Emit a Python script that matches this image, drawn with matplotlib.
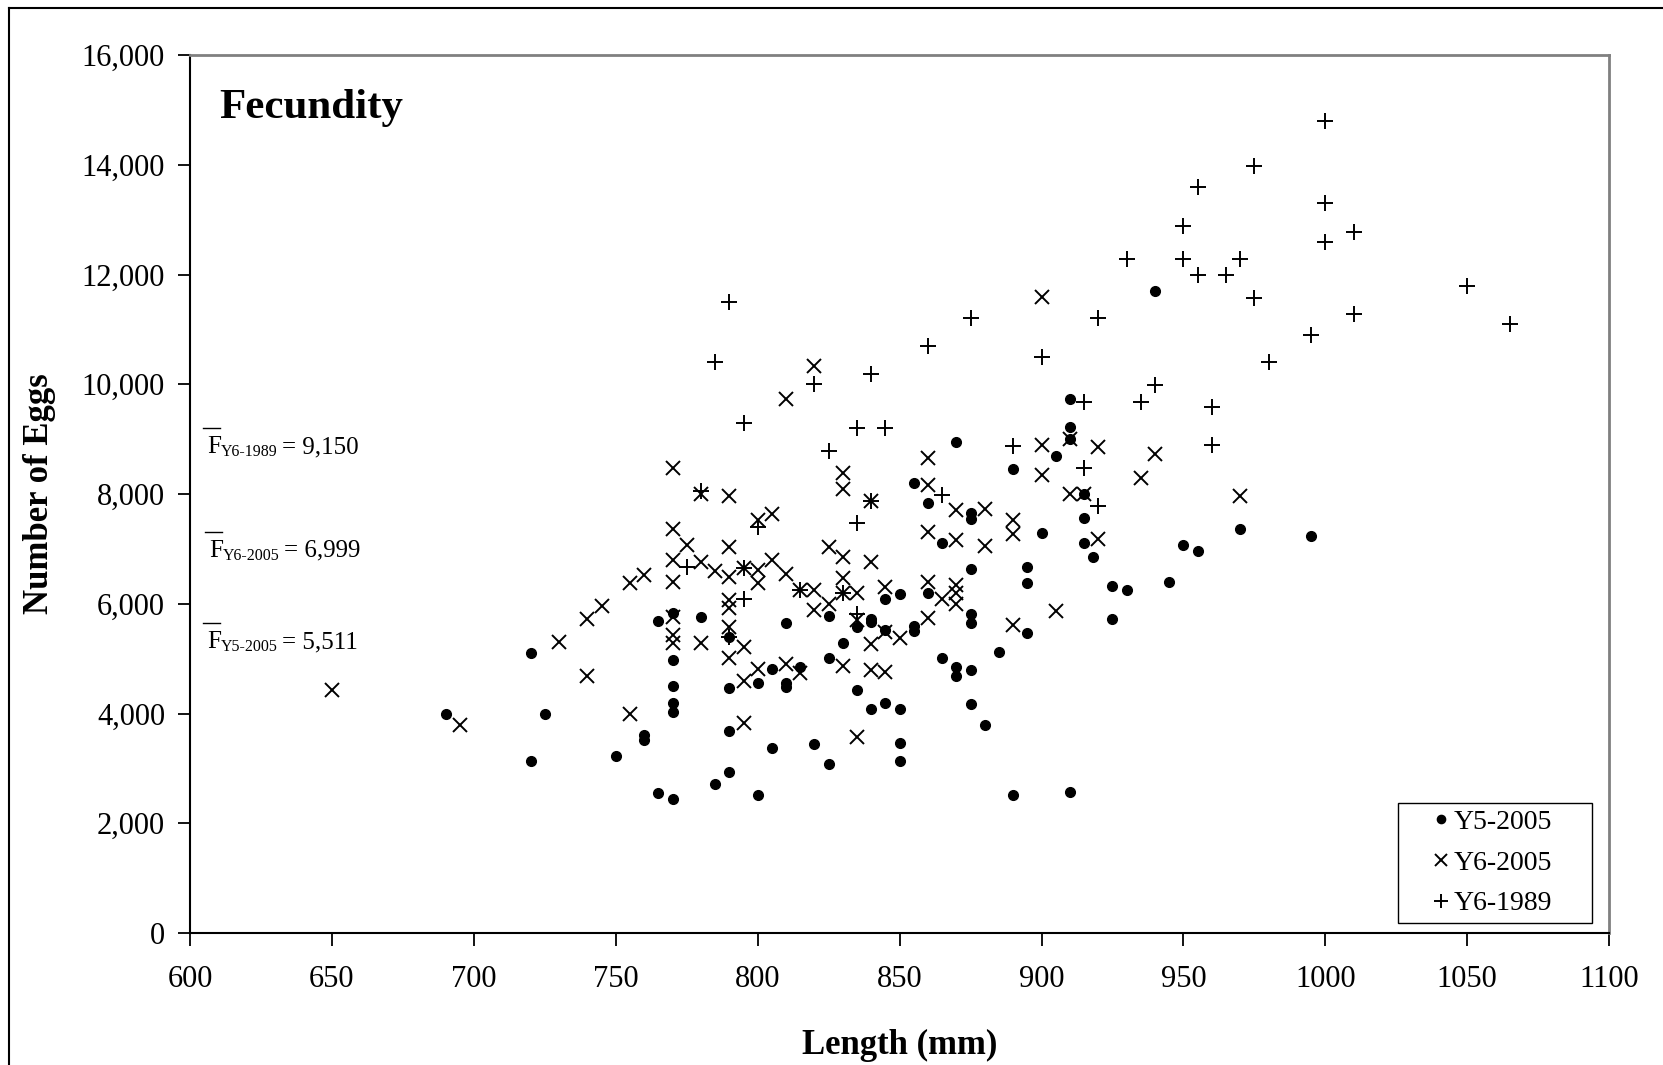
import matplotlib
matplotlib.use("Agg")
import matplotlib.pyplot as plt
import matplotlib.transforms as mtransforms
from matplotlib.lines import Line2D
from matplotlib.patches import Rectangle
from matplotlib.ticker import FuncFormatter, MultipleLocator

plt.rcParams['font.family'] = ['Liberation Serif', 'DejaVu Serif']

# Y5-2005 (dots)
y5_len = [690, 720, 720, 725, 750, 760, 760, 765, 765, 770, 770, 770, 770, 770, 770,
          780, 785, 790, 790, 790, 790, 800, 800, 805, 805, 810, 810, 810, 815, 820,
          825, 825, 825, 830, 835, 835, 840, 840, 840, 845, 845, 845, 850, 850, 850,
          850, 855, 855, 855, 860, 860, 865, 865, 870, 870, 870, 875, 875, 875, 875,
          875, 875, 875, 880, 885, 890, 890, 895, 895, 895, 900, 905, 910, 910, 910,
          910, 915, 915, 915, 918, 925, 925, 930, 940, 945, 950, 955, 970, 995]
y5_eggs = [4000, 5110, 3130, 4000, 3230, 3610, 3520, 5690, 2545, 5840, 4970, 4500, 4200, 4030, 2440,
           5760, 2715, 5390, 4470, 3680, 2930, 4550, 2510, 4810, 3380, 5655, 4550, 4480, 4840, 3445,
           5780, 5005, 3075, 5290, 5580, 4435, 5730, 5670, 4075, 6090, 5530, 4185, 6180, 4075, 3460,
           3140, 8195, 5590, 5500, 7840, 6190, 7110, 5005, 8940, 4840, 4685, 7660, 7540, 6630, 5820,
           5655, 4790, 4175, 3795, 5130, 8450, 2510, 6675, 6380, 5465, 7295, 8690, 9725, 9225, 9010,
           2575, 8010, 7560, 7115, 6860, 6330, 5720, 6250, 11700, 6405, 7075, 6965, 7365, 7240]

# Y6-2005 (crosses)
y6_len = [650, 695, 730, 740, 740, 745, 755, 755, 760, 770, 770, 770, 770, 770, 770, 770,
          775, 780, 780, 780, 785, 790, 790, 790, 790, 790, 790, 790, 795, 795, 795, 795,
          800, 800, 800, 800, 805, 805, 810, 810, 810, 815, 815, 820, 820, 820, 825, 825,
          830, 830, 830, 830, 830, 830, 835, 835, 835, 840, 840, 840, 840, 845, 845, 845,
          850, 860, 860, 860, 860, 860, 865, 870, 870, 870, 870, 870, 880, 880, 890, 890,
          890, 900, 900, 900, 905, 910, 910, 915, 920, 920, 935, 940, 970]
y6_eggs = [4430, 3790, 5310, 5715, 4690, 5960, 6385, 4000, 6530, 8470, 7365, 6790, 6400, 5765, 5430, 5280,
           7070, 8010, 6770, 5280, 6605, 7965, 7040, 6485, 6065, 5930, 5585, 5005, 6650, 5215, 4600, 3820,
           7520, 6615, 6370, 4820, 7635, 6800, 9740, 6545, 4900, 6260, 4745, 10340, 6260, 5885, 7035, 6005,
           8390, 8085, 6860, 6465, 6190, 4865, 6190, 5705, 3580, 7880, 6765, 5270, 4790, 6300, 5490, 4760,
           5370, 8650, 8165, 7315, 6400, 5735, 6095, 7710, 7160, 6340, 6190, 6005, 7725, 7050, 7525, 7280,
           5610, 11595, 8890, 8355, 5860, 9010, 7995, 8010, 8860, 7180, 8300, 8730, 7965]

# Y6-1989 (plus)
y89_len = [775, 780, 785, 790, 790, 795, 795, 795, 800, 815, 820, 825, 830, 835, 835, 835,
           840, 840, 845, 860, 865, 875, 890, 900, 915, 915, 920, 920, 930, 935, 940, 950,
           950, 955, 955, 960, 960, 965, 970, 975, 975, 980, 995, 1000, 1000, 1000, 1010,
           1010, 1050, 1065]
y89_eggs = [6675, 8050, 10400, 11500, 5400, 9300, 6650, 6080, 7400, 6250, 10000, 8790, 6190, 9200, 7480, 5820,
            10190, 7880, 9200, 10690, 7980, 11210, 8880, 10490, 9670, 8480, 11210, 7780, 12290, 9680, 9990, 12880,
            12290, 13590, 11990, 9590, 8890, 11990, 12290, 13980, 11580, 10400, 10890, 14790, 13300, 12590, 12780,
            11290, 11790, 11100]

mean_subs = ['Y6-1989', 'Y6-2005', 'Y5-2005']
mean_vals = ['9,150', '6,999', '5,511']

fig = plt.figure(figsize=(16.63, 10.65), dpi=100)
ax = fig.add_axes([0.1143, 0.1239, 0.8533, 0.8244])

ax.plot(y5_len, y5_eggs, 'o', color='black', ms=7, label='Y5-2005')
ax.plot(y6_len, y6_eggs, 'x', color='black', ms=10, mew=1.4, label='Y6-2005')
ax.plot(y89_len, y89_eggs, '+', color='black', ms=11.5, mew=1.4, label='Y6-1989')

ax.set_xlim(600, 1100)
ax.set_ylim(0, 16000)
ax.xaxis.set_major_locator(MultipleLocator(50))
ax.yaxis.set_major_locator(MultipleLocator(2000))
ax.yaxis.set_major_formatter(FuncFormatter(lambda v, p: f'{int(v):,}'))
ax.tick_params(axis='both', direction='out', length=9, width=1.3, labelsize=22)
ax.tick_params(axis='y', pad=9)
ax.tick_params(axis='x', pad=14)

for s in ['left', 'bottom']:
    ax.spines[s].set_color('black')
    ax.spines[s].set_linewidth(1.5)
for s in ['top', 'right']:
    ax.spines[s].set_color('#808080')
    ax.spines[s].set_linewidth(2)

ax.set_xlabel('Length (mm)', fontsize=25, fontweight='bold')
ax.set_ylabel('Number of Eggs', fontsize=25, fontweight='bold')
ax.xaxis.set_label_coords(0.5, -0.138)
ax.xaxis.label.set_va('baseline')
ax.yaxis.set_label_coords(-0.106, 0.5)
ax.yaxis.label.set_va('center')

ax.text(0.0204, 0.928, 'Fecundity', transform=ax.transAxes, fontsize=31,
        fontweight='bold', va='baseline')

# mean annotations: F-bar with subscript
renderer = fig.canvas.get_renderer()
label_x = [0.012, 0.0134, 0.012]
label_y = [0.5464, 0.4286, 0.3243]
for lx, ly, sub, val in zip(label_x, label_y, mean_subs, mean_vals):
    f = ax.text(lx, ly, 'F', transform=ax.transAxes, fontsize=18, va='baseline')
    fb = f.get_window_extent(renderer)
    tr = mtransforms.offset_copy(ax.transAxes, fig=fig, x=fb.width, y=-3, units='dots')
    st = ax.text(lx, ly, sub, transform=tr, fontsize=11.5, va='baseline')
    sb = st.get_window_extent(renderer)
    tr2 = mtransforms.offset_copy(ax.transAxes, fig=fig, x=fb.width + sb.width + 4, y=0, units='dots')
    ax.text(lx, ly, '= ' + val, transform=tr2, fontsize=18, va='baseline')
    bx, by = ax.transAxes.transform((lx, ly))
    fig.add_artist(Line2D([bx - 4, bx + 13], [by + 25, by + 25], color='black', lw=1.0,
                          transform=mtransforms.IdentityTransform()))

# legend: content centred in a wider square box
box_x0, box_y0, box_x1, box_y1 = 0.8513, 0.0114, 0.9880, 0.1481
ax.add_patch(Rectangle((box_x0, box_y0), box_x1 - box_x0, box_y1 - box_y0,
                       transform=ax.transAxes, facecolor='white', edgecolor='black',
                       lw=1.0, zorder=4))
leg = ax.legend(loc='center', bbox_to_anchor=((box_x0 + box_x1) / 2 - 0.003, (box_y0 + box_y1) / 2),
                frameon=False, fontsize=20, handlelength=0.8, handletextpad=0.05,
                borderpad=0, labelspacing=0.55, borderaxespad=0, markerscale=0.85)
leg.set_zorder(5)

# outer chart border (left and top only visible)
fig.add_artist(Line2D([9 / 1663, 9 / 1663], [0, 1 - 8 / 1065], color='black', lw=1.5))
fig.add_artist(Line2D([9 / 1663, 1], [1 - 8 / 1065, 1 - 8 / 1065], color='black', lw=1.5))

fig.savefig('out.png', dpi=100)
